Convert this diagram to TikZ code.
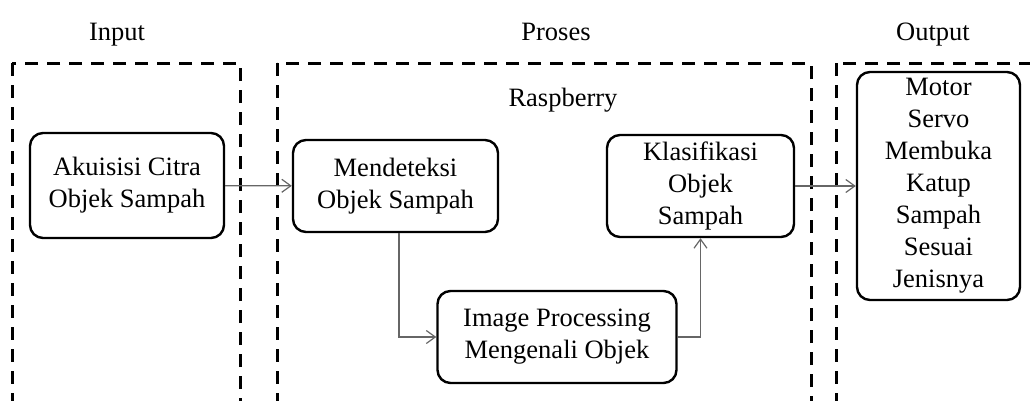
\documentclass[tikz,border=0pt]{standalone}
\usepackage{fontspec}
\setmainfont{Liberation Serif}
\usetikzlibrary{arrows.meta}

\begin{document}
\begin{tikzpicture}[x=1pt,y=-1pt,
    font=\fontsize{26.5}{32}\selectfont,
    blok/.style={draw=black,line width=2.4pt,rounded corners=13pt,align=center,inner sep=0pt},
    grup/.style={draw=black,line width=3pt,dash pattern=on 13pt off 9pt},
    judul/.style={anchor=base},
    panah/.style={draw=black!60,line width=1.2pt,-{Straight Barb[length=9pt,width=13pt]}}]
                    \useasboundingbox (0,0) rectangle (1030,400);
                    \clip (0,0) rectangle (1030,400);

                    % kelompok
                    \draw[grup] (12,63) rectangle (240,420);
                    \draw[grup] (277,63) rectangle (811,420);
                    \draw[grup] (836,63) rectangle (1050,420);
                    \node[judul] (lInput) at (117,40) {Input};
                    \node[judul] (lProses) at (556,40) {Proses};
                    \node[judul] (lOutput) at (933,40) {Output};
                    \node[judul] (lRasp) at (563,106) {Raspberry};

                    % blok proses
                    \node[blok,minimum width=194pt,minimum height=105pt] (akuisisi) at (127,185.5) {Akuisisi Citra\\Objek Sampah};
                    \node[blok,minimum width=205pt,minimum height=92pt] (deteksi) at (395.5,186) {Mendeteksi\\Objek Sampah};
                    \node[blok,minimum width=239pt,minimum height=92pt] (olah) at (557,337) {Image Processing\\Mengenali Objek};
                    \node[blok,minimum width=187pt,minimum height=102pt] (klasifikasi) at (700.5,186) {Klasifikasi\\Objek\\Sampah};
                    \node[blok,minimum width=163pt,minimum height=228pt] (motor) at (938.5,186) {Motor\\Servo\\Membuka\\Katup\\Sampah\\Sesuai\\Jenisnya};

                    \draw[panah] (akuisisi) -- (deteksi);
                    \draw[panah] ([xshift=3.5pt]deteksi.south) |- (olah.west);
                    \draw[panah] (olah.east) -| (klasifikasi.south);
                    \draw[panah] (klasifikasi) -- (motor);
                \end{tikzpicture}
\end{document}
